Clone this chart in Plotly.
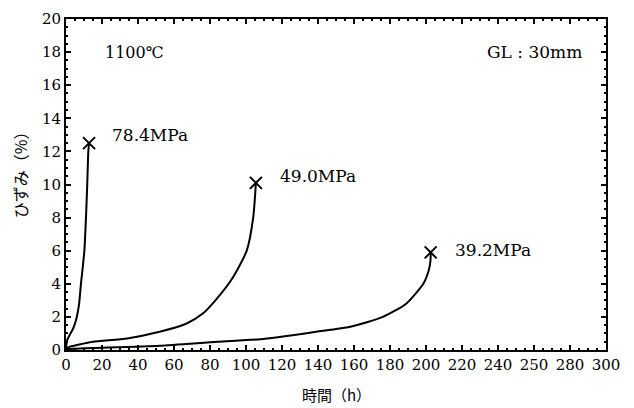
import plotly.graph_objects as go

# ---- data ----
x_784 = [0, 0.2, 0.5, 2, 4, 6, 7.3, 8.3, 9.3, 10.2, 11.1, 11.8, 12.4, 12.8]
y_784 = [0, 0.3, 0.55, 0.9, 1.3, 2.0, 2.8, 4.0, 5.0, 6.0, 8.0, 10.0, 12.0, 12.5]

x_490 = [0, 0.5, 2, 6, 15, 34, 52, 67, 76, 83, 92.8, 100.4, 104, 105.5]
y_490 = [0, 0.1, 0.2, 0.3, 0.5, 0.7, 1.1, 1.6, 2.2, 3.0, 4.4, 6.0, 8.0, 10.1]

x_392 = [0, 1, 5, 15, 52, 84, 108, 139, 158, 176, 189, 198.5, 201.5, 202.5, 202.6]
y_392 = [0, 0.05, 0.08, 0.12, 0.26, 0.5, 0.65, 1.1, 1.4, 2.0, 2.8, 4.0, 4.8, 5.4, 5.9]

series_names = ["78.4MPa", "49.0MPa", "39.2MPa"]
label_x = [24.5, 118, 215]
label_y = [13.0, 10.5, 6.05]

x_tickvals = [0, 20, 40, 60, 80, 100, 120, 140, 160, 180, 200, 220, 240, 260, 280, 300]
x_ticktext = ["0", "20", "40", "60", "80", "100", "120", "140", "160", "180", "200",
              "220", "240", "250", "280", "300"]
y_tickvals = [0, 2, 4, 6, 8, 10, 12, 14, 16, 18, 20]

SERIF = "DejaVu Serif, Noto Sans CJK JP, serif"
CJK = "Noto Sans CJK JP, DejaVu Serif, sans-serif"

fig = go.Figure()
for xs, ys in [(x_784, y_784), (x_490, y_490), (x_392, y_392)]:
    fig.add_trace(go.Scatter(x=xs, y=ys, mode="lines",
                             line=dict(color="black", width=2, shape="spline", smoothing=0.6),
                             showlegend=False, hoverinfo="skip"))
    fig.add_trace(go.Scatter(x=[xs[-1]], y=[ys[-1]], mode="markers",
                             marker=dict(symbol="x-thin", size=12, line=dict(color="black", width=2)),
                             showlegend=False, hoverinfo="skip"))

for name, lx, ly in zip(series_names, label_x, label_y):
    fig.add_annotation(x=lx, y=ly, text=name, showarrow=False, xanchor="left", yanchor="middle",
                       font=dict(family=SERIF, size=17, color="black"))

fig.add_annotation(x=20.5, y=18.0, text="1100℃", showarrow=False, xanchor="left", yanchor="middle",
                   font=dict(family=SERIF, size=16, color="black"))
fig.add_annotation(x=287.5, y=18.0, text="GL : 30mm", showarrow=False, xanchor="right", yanchor="middle",
                   font=dict(family=SERIF, size=17, color="black"))

# axis titles
fig.add_annotation(xref="paper", yref="paper", x=0.5, y=-0.134, text="時間（h）", showarrow=False,
                   xanchor="center", yanchor="middle", font=dict(family=CJK, size=15, color="black"))
fig.add_annotation(xref="paper", yref="paper", x=-0.085, y=0.54, text="ひずみ（%）", showarrow=False,
                   textangle=-90, xanchor="center", yanchor="middle",
                   font=dict(family=CJK, size=16, color="black"))

axis_common = dict(showgrid=False, zeroline=False, showline=True, linecolor="black", linewidth=2,
                   ticks="inside", ticklen=5, tickwidth=1.5, tickcolor="black", automargin=False,
                   tickfont=dict(family=SERIF, size=15, color="black"))

fig.update_layout(
    xaxis=dict(range=[0, 300], tickvals=x_tickvals, ticktext=x_ticktext, mirror=True,
               minor=dict(dtick=5, ticks="inside", ticklen=2, tickwidth=1.5, tickcolor="black"),
               **axis_common),
    yaxis=dict(range=[0, 20], tickvals=y_tickvals, mirror=True,
               minor=dict(dtick=0.5, ticks="inside", ticklen=2, tickwidth=1.5, tickcolor="black"),
               **axis_common),
    xaxis2=dict(range=[0, 300], overlaying="x", side="top", tickvals=x_tickvals, showticklabels=False,
                minor=dict(dtick=5, ticks="inside", ticklen=2, tickwidth=1.5, tickcolor="black"),
                **axis_common),
    yaxis2=dict(range=[0, 20], overlaying="y", side="right", tickvals=y_tickvals, showticklabels=False,
                minor=dict(dtick=0.5, ticks="inside", ticklen=2, tickwidth=1.5, tickcolor="black"),
                **axis_common),
)
# invisible trace to anchor the mirrored tick axes
fig.add_trace(go.Scatter(x=[x_784[0]], y=[y_784[0]], xaxis="x2", yaxis="y2", mode="markers",
                         marker=dict(opacity=0), showlegend=False, hoverinfo="skip"))

# page body has an 8px margin; compensate so the plot lands at the reference position
fig.update_layout(width=626, height=400, margin=dict(l=58, r=28, t=11, b=58),
                  plot_bgcolor="white", paper_bgcolor="white")

fig.write_html("out.html")
